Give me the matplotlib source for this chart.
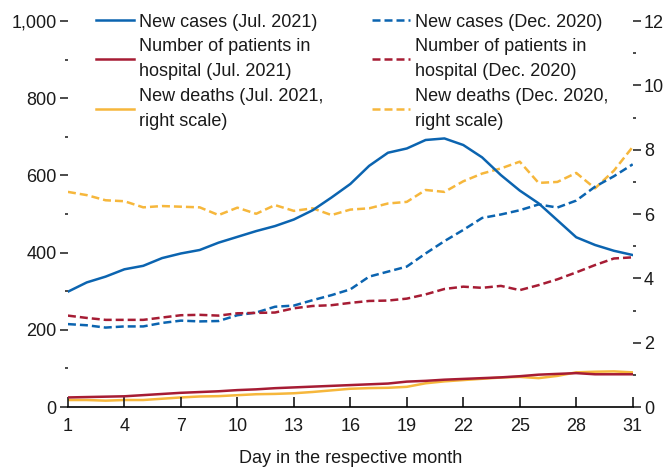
import matplotlib
matplotlib.use("Agg")
import matplotlib.pyplot as plt
from matplotlib.ticker import FixedLocator, FuncFormatter
from matplotlib import font_manager

days = list(range(1, 32))

cases_jul = [299, 323, 338, 357, 366, 386, 398, 407, 426, 441, 456, 469, 486, 510, 543,
             578, 625, 659, 670, 692, 696, 679, 647, 601, 561, 528, 484, 440, 420, 405, 394]
hosp_jul = [25, 26, 27, 28, 31, 34, 37, 39, 41, 44, 46, 49, 51, 53, 55,
            57, 59, 61, 66, 68, 71, 73, 75, 77, 80, 84, 86, 88, 85, 85, 85]
deaths_jul = [0.22, 0.22, 0.20, 0.22, 0.22, 0.26, 0.30, 0.33, 0.34, 0.37, 0.40, 0.41, 0.43, 0.47, 0.52,
              0.57, 0.59, 0.60, 0.63, 0.74, 0.80, 0.84, 0.88, 0.92, 0.94, 0.90, 0.97, 1.08, 1.10, 1.11, 1.08]

cases_dec = [215, 212, 206, 209, 209, 218, 224, 222, 223, 238, 245, 260, 263, 277, 290,
             305, 338, 351, 364, 398, 430, 459, 490, 499, 510, 525, 517, 535, 571, 598, 629]
hosp_dec = [237, 231, 226, 226, 226, 232, 238, 239, 237, 243, 244, 245, 256, 262, 264,
            270, 275, 276, 281, 292, 306, 312, 309, 314, 303, 316, 331, 349, 368, 385, 388]
deaths_dec = [6.69, 6.59, 6.43, 6.40, 6.21, 6.25, 6.23, 6.21, 5.97, 6.20, 6.01, 6.28, 6.10, 6.18, 5.97,
              6.14, 6.18, 6.33, 6.38, 6.75, 6.69, 7.02, 7.26, 7.42, 7.63, 6.97, 7.00, 7.28, 6.80, 7.35, 8.09]

labels = ["New cases (Jul. 2021)", "Number of patients in\nhospital (Jul. 2021)",
          "New deaths (Jul. 2021,\nright scale)", "New cases (Dec. 2020)",
          "Number of patients in\nhospital (Dec. 2020)", "New deaths (Dec. 2020,\nright scale)"]
xticks = [1, 4, 7, 10, 13, 16, 19, 22, 25, 28, 31]
xlabel = "Day in the respective month"

BLUE = "#0b64b0"
RED = "#a61c34"
YEL = "#f6b73c"
TXT = "#1a1a1a"

names = {f.name for f in font_manager.fontManager.ttflist}
fam = "Liberation Sans Narrow" if "Liberation Sans Narrow" in names else "Liberation Sans"
plt.rcParams["font.family"] = [fam, "DejaVu Sans"]
FS = 13

fig = plt.figure(figsize=(6.66, 4.69), dpi=100)
ax = fig.add_axes([0.102, 0.132, 0.848, 0.823])
ax2 = ax.twinx()

lw = 1.8
dash = (0, (3.2, 1.6))
l1, = ax.plot(days, cases_jul, color=BLUE, lw=lw)
l2, = ax.plot(days, hosp_jul, color=RED, lw=lw)
l4, = ax.plot(days, cases_dec, color=BLUE, lw=lw, ls=dash)
l5, = ax.plot(days, hosp_dec, color=RED, lw=lw, ls=dash)
l3, = ax2.plot(days, deaths_jul, color=YEL, lw=lw)
l6, = ax2.plot(days, deaths_dec, color=YEL, lw=lw, ls=dash)

ax.set_xlim(1, 31)
ax.set_ylim(0, 1000)
ax2.set_ylim(0, 12)

for a in (ax, ax2):
    for s in ("top", "left", "right"):
        a.spines[s].set_visible(False)
ax2.spines["bottom"].set_visible(False)
ax.spines["bottom"].set_linewidth(1.2)

ax.set_xticks(xticks)
ax.tick_params(axis="x", direction="in", length=7, width=1.2, labelsize=FS, pad=8, colors=TXT)
ax.yaxis.set_major_locator(FixedLocator([0, 200, 400, 600, 800, 1000]))
ax.yaxis.set_minor_locator(FixedLocator([100, 300, 500, 700, 900]))
ax.yaxis.set_major_formatter(FuncFormatter(lambda v, p: f"{int(v):,}"))
ax.tick_params(axis="y", which="major", direction="out", length=6, width=1.1, labelsize=FS, pad=2, colors=TXT)
ax.tick_params(axis="y", which="minor", direction="out", length=2.5, width=1.1, colors=TXT)

ax2.yaxis.set_major_locator(FixedLocator([0, 2, 4, 6, 8, 10, 12]))
ax2.yaxis.set_minor_locator(FixedLocator([1, 3, 5, 7, 9, 11]))
ax2.tick_params(axis="y", which="major", direction="out", length=6, width=1.1, labelsize=FS, pad=2, colors=TXT)
ax2.tick_params(axis="y", which="minor", direction="out", length=2.5, width=1.1, colors=TXT)

ax.set_xlabel(xlabel, fontsize=FS, labelpad=11, color=TXT)

leg = ax.legend([l1, l2, l3, l4, l5, l6], labels, ncol=2, frameon=False, fontsize=FS,
                loc="upper left", bbox_to_anchor=(0.037, 1.038), handlelength=2.1,
                handletextpad=0.3, columnspacing=2.65, labelspacing=0.42, borderaxespad=0)
for t in leg.get_texts():
    t.set_color(TXT)
    t.set_linespacing(1.62)
ax2.set_zorder(ax.get_zorder() - 1)
ax.patch.set_visible(False)

fig.savefig("out.png", dpi=100)
